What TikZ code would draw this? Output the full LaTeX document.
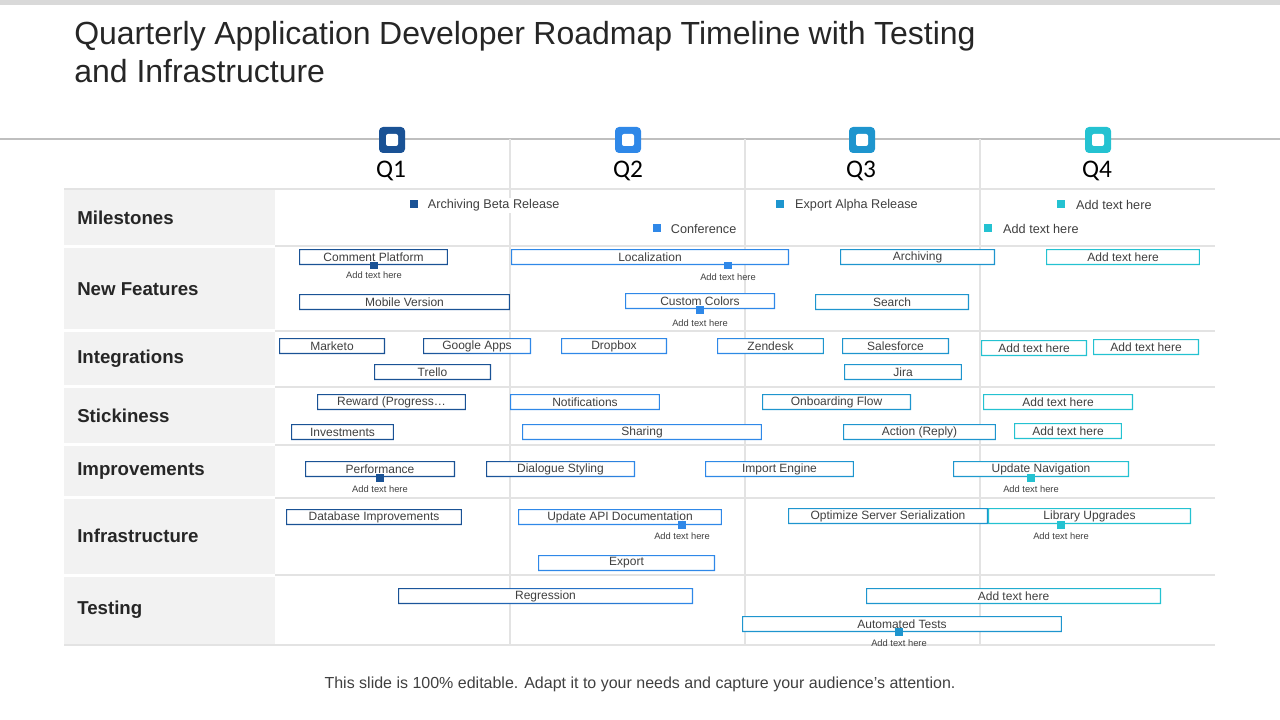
\documentclass[tikz,border=0pt]{standalone}
\usepackage{fontspec}
\setmainfont{Liberation Sans}
\newfontfamily\qfont{Carlito}
\usepackage{tikz}
\usetikzlibrary{positioning}
\definecolor{ink}{HTML}{262626}
\definecolor{body}{HTML}{404040}
\definecolor{cell}{HTML}{F2F2F2}
\definecolor{rule}{HTML}{E3E3E3}
\definecolor{topbar}{HTML}{D9D9D9}
\definecolor{qa}{HTML}{1A5295}
\definecolor{qb}{HTML}{2F88E8}
\definecolor{qc}{HTML}{1E95CE}
\definecolor{qd}{HTML}{24C2D1}
\tikzset{
  task/.style 2 args={inner sep=0pt, minimum height=12pt, fill=white, text=body,
    font=\fontsize{9}{10}\selectfont,
    path picture={\shade[left color=#1, right color=#2, even odd rule]
      (path picture bounding box.south west) rectangle (path picture bounding box.north east)
      ([shift={(0.8pt,0.8pt)}]path picture bounding box.south west)
      rectangle ([shift={(-0.8pt,-0.8pt)}]path picture bounding box.north east);}},
  len/.style={minimum width=#1*0.75pt},
  dot/.style={fill=#1, inner sep=0pt, minimum width=6pt, minimum height=5.5pt},
  note/.style={inner sep=0pt, text=body, font=\fontsize{7}{8}\selectfont},
  msq/.style={fill=#1, inner sep=0pt, minimum size=6pt},
  mtxt/.style={inner sep=1pt, fill=white, text=body, font=\fontsize{9.5}{11}\selectfont},
  icon/.style={fill=#1, rounded corners=3pt, inner sep=0pt, minimum size=19.5pt},
  hole/.style={fill=white, rounded corners=1.5pt, inner sep=0pt, minimum size=9pt},
  qlab/.style={text=black, font=\qfont\fontsize{19}{22}\selectfont},
  rowlab/.style={anchor=west, inner sep=0pt, text=ink, font=\bfseries\fontsize{14}{16}\selectfont},
  hline/.style={draw=rule, line width=1.1pt},
  vline/.style={draw=rule, line width=1.2pt}
}
\begin{document}
\begin{tikzpicture}[x=0.75pt, y=-0.75pt]
  \useasboundingbox (0,0) rectangle (1280,720);
  \fill[topbar] (0,0) rectangle (1280,5);

  \node[anchor=base west, inner sep=0pt, text=ink, align=left,
    font=\fontsize{24}{28.5}\selectfont] (title) at (74,83)
    {\makebox[676pt][s]{Quarterly Application Developer Roadmap Timeline with Testing}\\and Infrastructure};

  \draw[draw=black!25, line width=0.8pt] (0,139) -- (1280,139);

  % row label cells
  \fill[cell] (64,190) rectangle (275,244.5);
  \fill[cell] (64,247.5) rectangle (275,329);
  \fill[cell] (64,332) rectangle (275,385);
  \fill[cell] (64,388) rectangle (275,443);
  \fill[cell] (64,446) rectangle (275,496);
  \fill[cell] (64,499) rectangle (275,573.5);
  \fill[cell] (64,576.5) rectangle (275,644);

  \draw[hline] (64,189) -- (1215,189);
  \draw[hline] (275,246) -- (1215,246);
  \draw[hline] (275,331) -- (1215,331);
  \draw[hline] (275,387) -- (1215,387);
  \draw[hline] (275,445) -- (1215,445);
  \draw[hline] (275,498) -- (1215,498);
  \draw[hline] (275,575) -- (1215,575);
  \draw[hline] (64,645) -- (1215,645);

  \draw[vline] (510,139) -- (510,645);
  \draw[vline] (745,139) -- (745,645);
  \draw[vline] (980,139) -- (980,645);

  % quarter headers
  \node[icon=qa] (ic1) at (392,140) {}; \node[hole] (ih1) at (ic1) {};
  \node[icon=qb] (ic2) at (628,140) {}; \node[hole] (ih2) at (ic2) {};
  \node[icon=qc] (ic3) at (862,140) {}; \node[hole] (ih3) at (ic3) {};
  \node[icon=qd] (ic4) at (1098,140) {}; \node[hole] (ih4) at (ic4) {};
  \node[qlab] (q1) at (391,171) {Q1};
  \node[qlab] (q2) at (628,171) {Q2};
  \node[qlab] (q3) at (861,171) {Q3};
  \node[qlab] (q4) at (1097,171) {Q4};

  \node[rowlab] (lmile) at (77,218) {Milestones};
  \node[rowlab] (lnew) at (77,289) {New Features};
  \node[rowlab] (lint) at (77,359) {Integrations};
  \node[rowlab] (lstk) at (77,416) {Stickiness};
  \node[rowlab] (limp) at (77,471) {Improvements};
  \node[rowlab] (linf) at (77,536) {Infrastructure};
  \node[rowlab] (ltst) at (77,610) {Testing};

  % milestones
  \node[msq=qa] (m1) at (414,204) {};
  \node[mtxt, right=6pt of m1, yshift=-1pt] (mt1) {Archiving Beta Release};
  \node[msq=qb] (m2) at (657,228) {};
  \node[mtxt, right=6pt of m2, yshift=-1pt] (mt2) {Conference};
  \node[msq=qc] (m3) at (780,204) {};
  \node[mtxt, right=7pt of m3, yshift=-1pt] (mt3) {Export Alpha Release};
  \node[msq=qd] (m4) at (1061,204) {};
  \node[mtxt, right=7pt of m4, yshift=-1pt] (mt4) {Add text here};
  \node[msq=qd] (m5) at (988,228) {};
  \node[mtxt, right=7pt of m5, yshift=-1pt] (mt5) {Add text here};

  % new features
  \node[task={qa}{qa}, len=149] (cplat) at (373.5,257) {Comment Platform};
  \node[task={qb}{qb}, len=278] (local) at (650,257) {Localization};
  \node[task={qc}{qc}, len=155] (archv) at (917.5,257) {Archiving};
  \node[task={qd}{qd}, len=154] (nf4) at (1123,257) {Add text here};
  \node[task={qa}{qa}, len=211] (mobv) at (404.5,302) {Mobile Version};
  \node[task={qb}{qb}, len=150] (ccol) at (700,301) {Custom Colors};
  \node[task={qc}{qc}, len=154] (srch) at (892,302) {Search};

  % integrations
  \node[task={qa}{qa}, len=106] (mkto) at (332,346) {Marketo};
  \node[task={qa}{qb}, len=108] (gapp) at (477,346) {Google Apps};
  \node[task={qb}{qb}, len=106] (dbox) at (614,346) {Dropbox};
  \node[task={qb}{qc}, len=107] (zdsk) at (770.5,346) {Zendesk};
  \node[task={qc}{qc}, len=107] (sfrc) at (895.5,346) {Salesforce};
  \node[task={qd}{qd}, len=106] (int1) at (1034,348) {Add text here};
  \node[task={qd}{qd}, len=106] (int2) at (1146,347) {Add text here};
  \node[task={qa}{qa}, len=117] (trlo) at (432.5,372) {Trello};
  \node[task={qc}{qc}, len=118] (jira) at (903,372) {Jira};

  % stickiness
  \node[task={qa}{qa}, len=149] (rwrd) at (391.5,402) {Reward (Progress…};
  \node[task={qb}{qb}, len=150] (notf) at (585,402) {Notifications};
  \node[task={qc}{qc}, len=149] (onbf) at (836.5,402) {Onboarding Flow};
  \node[task={qd}{qd}, len=150] (stk1) at (1058,402) {Add text here};
  \node[task={qa}{qa}, len=103] (invs) at (342.5,432) {Investments};
  \node[task={qb}{qb}, len=240] (shar) at (642,432) {Sharing};
  \node[task={qc}{qc}, len=153] (actr) at (919.5,432) {Action (Reply)};
  \node[task={qd}{qd}, len=108] (stk2) at (1068,431) {Add text here};

  % improvements
  \node[task={qa}{qa}, len=150] (perf) at (380,469) {Performance};
  \node[task={qa}{qb}, len=149] (dlgs) at (560.5,469) {Dialogue Styling};
  \node[task={qb}{qc}, len=149] (impe) at (779.5,469) {Import Engine};
  \node[task={qc}{qd}, len=176] (updn) at (1041,469) {Update Navigation};

  % infrastructure
  \node[task={qa}{qa}, len=176] (dbim) at (374,517) {Database Improvements};
  \node[task={qb}{qb}, len=204] (uapi) at (620,517) {Update API Documentation};
  \node[task={qc}{qc}, len=200] (osrv) at (888,516) {Optimize Server Serialization};
  \node[task={qd}{qd}, len=203] (libu) at (1089.5,516) {Library Upgrades};
  \node[task={qb}{qb}, len=177] (expt) at (626.5,563) {Export};

  % testing
  \node[task={qa}{qb}, len=295] (regr) at (545.5,596) {Regression};
  \node[task={qc}{qd}, len=295] (tst1) at (1013.5,596) {Add text here};
  \node[task={qc}{qc}, len=320] (autt) at (902,624) {Automated Tests};

  % markers with notes
  \node[dot=qa] (d1) at (374,265.5) {};
  \node[note, below=1.5pt of d1] (n1) {Add text here};
  \node[dot=qb] (d2) at (728,265.5) {};
  \node[note, below=3pt of d2] (n2) {Add text here};
  \node[dot=qb] (d3) at (700,310) {};
  \node[note, below=4pt of d3] (n3) {Add text here};
  \node[dot=qa] (d4) at (380,478) {};
  \node[note, below=3pt of d4] (n4) {Add text here};
  \node[dot=qd] (d5) at (1031,478) {};
  \node[note, below=3pt of d5] (n5) {Add text here};
  \node[dot=qb] (d6) at (682,525) {};
  \node[note, below=3pt of d6] (n6) {Add text here};
  \node[dot=qd] (d7) at (1061,525) {};
  \node[note, below=3pt of d7] (n7) {Add text here};
  \node[dot=qc] (d8) at (899,632) {};
  \node[note, below=3pt of d8] (n8) {Add text here};

  \node[text=body, font=\fontsize{12}{14}\selectfont] (foot) at (640,684)
    {This slide is 100\% editable. Adapt it to your needs and capture your audience's attention.};
\end{tikzpicture}
\end{document}
